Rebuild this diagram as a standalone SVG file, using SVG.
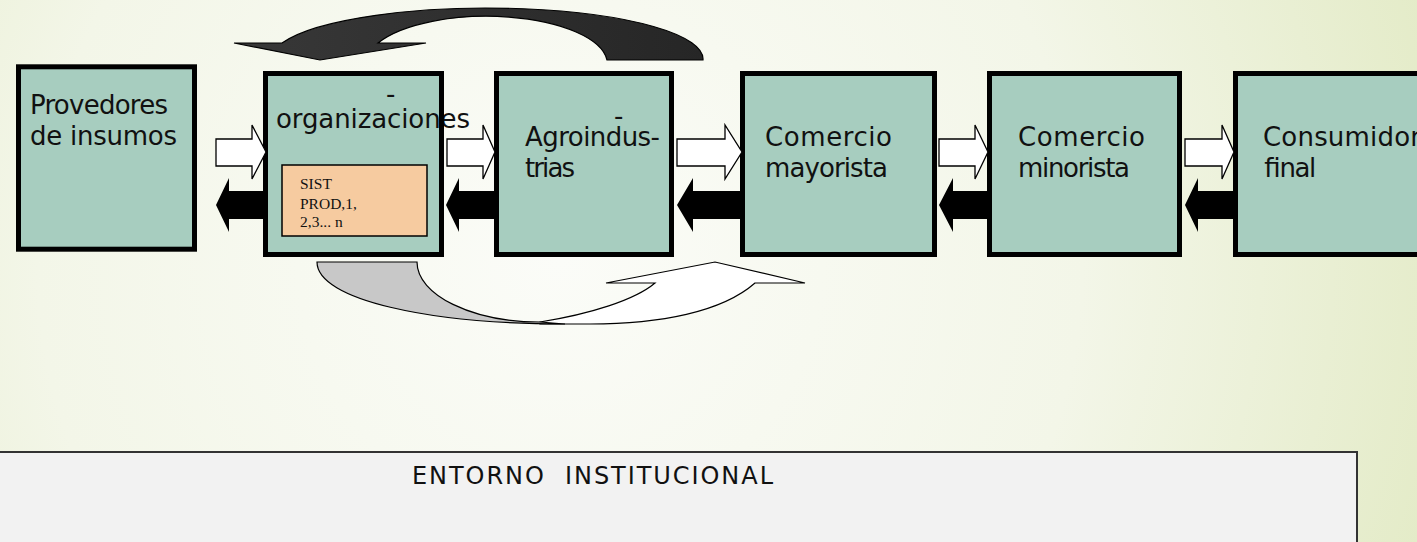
<svg xmlns="http://www.w3.org/2000/svg" width="1417" height="542" viewBox="0 0 1417 542">
<defs>
<radialGradient id="bg" cx="560" cy="260" r="950" gradientUnits="userSpaceOnUse">
<stop offset="0" stop-color="#fbfcf8"/>
<stop offset="0.55" stop-color="#f3f6e8"/>
<stop offset="1" stop-color="#e2eac4"/>
</radialGradient>
<linearGradient id="dark" x1="0" y1="0" x2="1" y2="0">
<stop offset="0" stop-color="#383838"/>
<stop offset="1" stop-color="#262626"/>
</linearGradient>
</defs>
<style>
.box{fill:#a7cdbf;stroke:none}
.bord{fill:none;stroke:#000;stroke-width:5}
.t{font-family:"DejaVu Sans","Liberation Sans",sans-serif;font-size:26px;fill:#111}
.s{font-family:"Liberation Serif","Times New Roman",serif;font-size:15.5px;fill:#111}
.wa{fill:#fff;stroke:#000;stroke-width:1.3;stroke-linejoin:miter}
.ba{fill:#000;stroke:none}
.cv{stroke:#000;stroke-width:1.2;stroke-linejoin:miter}
</style>
<rect x="0" y="0" width="1417" height="542" fill="url(#bg)"/>

<g id="n1">
<rect class="box" x="18.5" y="66.8" width="176" height="182.4"/>
<text class="t" x="30" y="114" textLength="138">Provedores</text>
<text class="t" x="30" y="145" textLength="147">de insumos</text>
<rect class="bord" x="18.5" y="66.8" width="176" height="182.4"/>
</g>

<g id="n2">
<rect class="box" x="265.5" y="73.5" width="176" height="181"/>
<text class="t" x="386" y="103">-</text>
<text class="t" x="276" y="128" textLength="194">organizaciones</text>
<rect class="bord" x="265.5" y="73.5" width="176" height="181"/>
<g id="n2a">
<rect x="282" y="165" width="145" height="71" fill="#f6cba0" stroke="#000" stroke-width="1.5"/>
<text class="s" x="300" y="189">SIST</text>
<text class="s" x="300" y="209">PROD,1,</text>
<text class="s" x="300" y="227">2,3... n</text>
</g>
</g>

<g id="n3">
<rect class="box" x="496.5" y="73.5" width="175" height="181"/>
<text class="t" x="614" y="125">-</text>
<text class="t" x="525" y="146" textLength="135">Agroindus-</text>
<text class="t" x="525" y="177" textLength="50">trias</text>
<rect class="bord" x="496.5" y="73.5" width="175" height="181"/>
</g>

<g id="n4">
<rect class="box" x="742.5" y="73.5" width="192" height="181"/>
<text class="t" x="765" y="146" textLength="127">Comercio</text>
<text class="t" x="765" y="177" textLength="123">mayorista</text>
<rect class="bord" x="742.5" y="73.5" width="192" height="181"/>
</g>

<g id="n5">
<rect class="box" x="989.5" y="73.5" width="190" height="181"/>
<text class="t" x="1018" y="146" textLength="127">Comercio</text>
<text class="t" x="1018" y="177" textLength="112">minorista</text>
<rect class="bord" x="989.5" y="73.5" width="190" height="181"/>
</g>

<g id="n6">
<rect class="box" x="1235.5" y="73.5" width="250" height="181"/>
<text class="t" x="1263" y="146" textLength="158">Consumidor</text>
<text class="t" x="1263" y="177" textLength="52">final</text>
<rect class="bord" x="1235.5" y="73.5" width="250" height="181"/>
</g>

<g id="n7">
<rect x="-5" y="452" width="1362" height="100" fill="#f2f2f2" stroke="#333" stroke-width="2"/>
<text x="412" y="484" textLength="361" style="font-family:'DejaVu Sans','Liberation Sans',sans-serif;font-size:24px;fill:#111" xml:space="preserve">ENTORNO  INSTITUCIONAL</text>
</g>

<g id="connectors">
<polygon class="wa" points="216,139 252,139 252,125 266,152 252,179 252,166 216,166"/>
<polygon class="wa" points="447,139 483,139 483,125 495,152 483,179 483,166 447,166"/>
<polygon class="wa" points="677,139 725,139 725,125 742,152 725,179 725,166 677,166"/>
<polygon class="wa" points="939,139 975,139 975,125 988,152 975,179 975,166 939,166"/>
<polygon class="wa" points="1185,139 1222,139 1222,125 1234,152 1222,179 1222,166 1185,166"/>

<polygon class="ba" points="216,205 229,178 229,191 263,191 263,219 229,219 229,232"/>
<polygon class="ba" points="446,205 459,178 459,191 494,191 494,219 459,219 459,232"/>
<polygon class="ba" points="677,205 693,178 693,191 740,191 740,219 693,219 693,232"/>
<polygon class="ba" points="939,205 953,178 953,191 987,191 987,219 953,219 953,232"/>
<polygon class="ba" points="1185,205 1198,178 1198,191 1233,191 1233,219 1198,219 1198,232"/>

<path class="cv" fill="url(#dark)" d="M 703 60 A 216 51 0 0 0 282 43 L 234 43 L 320 60 L 426 43 L 378 43 A 121 48 0 0 1 607 60 Z"/>

<path class="cv" fill="#ffffff" d="M 540 322 C 590 314 635 300 655 283 L 606 283 L 715 262 L 805 283 L 755 283 C 722 312 660 324 590 324 L 540 324 Z"/>
<path class="cv" fill="#c8c8c8" d="M 317 262 L 417 262 C 417 295 472 322 540 322 L 565 324 C 430 324 317 300 317 262 Z"/>
</g>
</svg>
